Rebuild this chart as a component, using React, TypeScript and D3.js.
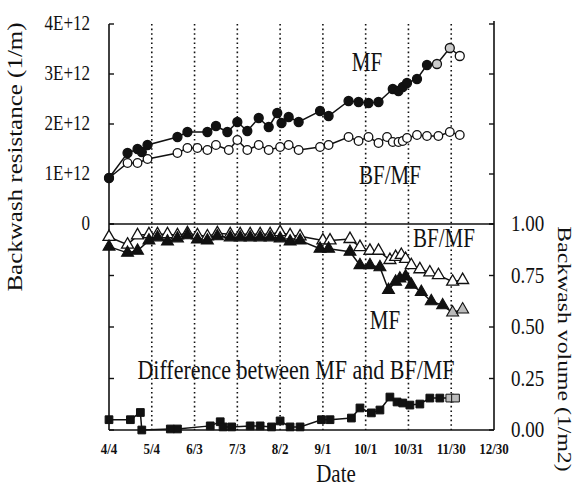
import React from "react";
import * as d3 from "d3";

// ---- axis ticks ----
const xTickDays = [0, 30, 60, 90, 120, 150, 180, 210, 240, 270];
const xTickLabels = ["4/4", "5/4", "6/3", "7/3", "8/2", "9/1", "10/1", "10/31", "11/30", "12/30"];
const gridDays = [30, 60, 90, 120, 150, 180, 210, 240];
const leftTickValues = [0, 1, 2, 3, 4];
const leftTickLabels = ["0", "1E+12", "2E+12", "3E+12", "4E+12"];
const rightTickValues = [0, 0.25, 0.5, 0.75, 1];
const rightTickLabels = ["0.00", "0.25", "0.50", "0.75", "1.00"];

// ---- backwash resistance (E+12 1/m), days since 4/4 ----
const mfResDays = [0, 13, 20, 23, 27, 48, 55, 69, 75, 83, 90, 97, 105, 112, 118, 121, 126, 133, 148, 154, 168, 175, 182, 189, 199, 203, 206, 209, 216, 223, 230, 239, 246];
const mfResValues = [0.92, 1.42, 1.5, 1.44, 1.58, 1.74, 1.84, 1.84, 1.96, 1.84, 2.04, 1.86, 2.12, 1.94, 2.22, 2.02, 2.14, 2.04, 2.26, 2.16, 2.46, 2.44, 2.42, 2.44, 2.7, 2.66, 2.74, 2.82, 2.9, 3.18, 3.2, 3.52, 3.36];
const bfResDays = [0, 13, 20, 27, 48, 55, 62, 69, 75, 84, 90, 97, 105, 112, 120, 126, 133, 148, 154, 168, 175, 182, 189, 195, 199, 203, 206, 209, 216, 223, 231, 239, 246];
const bfResValues = [0.92, 1.22, 1.22, 1.3, 1.42, 1.52, 1.52, 1.48, 1.58, 1.48, 1.68, 1.48, 1.58, 1.48, 1.54, 1.58, 1.48, 1.54, 1.58, 1.74, 1.66, 1.74, 1.62, 1.74, 1.64, 1.64, 1.66, 1.72, 1.78, 1.76, 1.76, 1.84, 1.78];

// ---- backwash volume (1/m2) ----
const mfVolDays = [0, 13, 20, 28, 34, 41, 48, 55, 62, 69, 76, 85, 92, 99, 106, 113, 120, 127, 134, 148, 154, 169, 176, 183, 190, 196, 201, 204, 208, 212, 219, 226, 234, 241, 248];
const mfVolValues = [0.89, 0.86, 0.87, 0.92, 0.935, 0.915, 0.93, 0.945, 0.925, 0.92, 0.94, 0.935, 0.935, 0.935, 0.935, 0.935, 0.93, 0.915, 0.92, 0.88, 0.88, 0.865, 0.8, 0.8, 0.79, 0.68, 0.72, 0.735, 0.745, 0.705, 0.67, 0.625, 0.605, 0.57, 0.585];
const bfVolDays = [0, 13, 20, 28, 34, 41, 48, 55, 62, 69, 76, 85, 92, 99, 106, 113, 120, 127, 134, 150, 155, 169, 176, 183, 189, 197, 201, 205, 208, 212, 218, 225, 231, 241, 248];
const bfVolValues = [0.937, 0.9, 0.945, 0.95, 0.95, 0.95, 0.945, 0.955, 0.945, 0.94, 0.955, 0.95, 0.95, 0.95, 0.95, 0.95, 0.96, 0.945, 0.94, 0.92, 0.92, 0.927, 0.888, 0.87, 0.87, 0.825, 0.84, 0.85, 0.83, 0.8, 0.78, 0.765, 0.752, 0.72, 0.728];

// ---- difference between MF and BF/MF (1/m2) ----
const diffDays = [0, 15, 22, 23, 43, 48, 71, 78, 80, 86, 99, 106, 114, 120, 127, 134, 149, 155, 170, 176, 184, 190, 197, 202, 206, 211, 218, 225, 232, 239, 243];
const diffValues = [0.05, 0.05, 0.085, 0.0, 0.005, 0.005, 0.02, 0.04, 0.015, 0.015, 0.02, 0.02, 0.015, 0.044, 0.015, 0.015, 0.05, 0.05, 0.058, 0.107, 0.083, 0.097, 0.16, 0.136, 0.131, 0.121, 0.126, 0.155, 0.155, 0.155, 0.155];

// number of trailing (provisional) points drawn pale
const mfResPale = 3;
const mfVolPale = 2;
const diffPale = 2;

const W = 580;
const H = 491;
const FONT = "'Liberation Serif', 'Times New Roman', serif";
const SY = 1.25;

type Pt = { d: number; v: number };
const zip = (ds: number[], vs: number[]): Pt[] => ds.map((d, i) => ({ d, v: vs[i] }));

function T({ x, y, size, children, anchor = "middle", weight = "normal", rotate = 0, sy = SY }: any) {
  const tr = rotate
    ? `translate(${x},${y}) rotate(${rotate}) scale(${sy},1)`
    : `translate(${x},${y}) scale(1,${sy})`;
  return (
    <text transform={tr} textAnchor={anchor} fontFamily={FONT} fontSize={size} fontWeight={weight} fill="#111">
      {children}
    </text>
  );
}

export default function App() {
  const x = d3.scaleLinear().domain([0, 270]).range([109, 494]);
  const yRes = d3.scaleLinear().domain([0, 4]).range([224, 24]);
  const yVol = d3.scaleLinear().domain([0, 1]).range([430, 224]);

  const mfRes = zip(mfResDays, mfResValues);
  const bfRes = zip(bfResDays, bfResValues);
  const mfVol = zip(mfVolDays, mfVolValues);
  const bfVol = zip(bfVolDays, bfVolValues);
  const diff = zip(diffDays, diffValues);

  const lineRes = d3.line<Pt>().x((p) => x(p.d)).y((p) => yRes(p.v));
  const lineVol = d3.line<Pt>().x((p) => x(p.d)).y((p) => yVol(p.v));
  const tri = d3.symbol().type(d3.symbolTriangle).size(62)() as string;
  const sq = d3.symbol().type(d3.symbolSquare).size(60)() as string;

  const left = x(0);
  const right = x(270);
  const top = yRes(4);
  const bottom = yVol(0);

  return (
    <svg width={W} height={H} style={{ position: "absolute", left: 0, top: 0, background: "#fff" }}>
      <rect x={0} y={0} width={W} height={H} fill="#fff" />
      {/* dotted verticals */}
      {gridDays.map((d) => (
        <line key={d} x1={x(d)} x2={x(d)} y1={top} y2={bottom} stroke="#111" strokeWidth={1.6} strokeDasharray="1.6,3" />
      ))}
      {/* frame */}
      <line x1={left} x2={left} y1={top} y2={bottom} stroke="#111" strokeWidth={1.6} />
      <line x1={right} x2={right} y1={top - 3} y2={bottom} stroke="#111" strokeWidth={1.6} />
      <line x1={left} x2={right} y1={bottom} y2={bottom} stroke="#111" strokeWidth={1.6} />
      <line x1={left} x2={right} y1={yRes(0)} y2={yRes(0)} stroke="#111" strokeWidth={1.4} />
      {/* ticks */}
      {leftTickValues.map((v) => (
        <g key={"l" + v}>
          <line x1={left} x2={left + 5} y1={yRes(v)} y2={yRes(v)} stroke="#111" strokeWidth={1.4} />
          <line x1={right} x2={right - 5} y1={yRes(v)} y2={yRes(v)} stroke="#111" strokeWidth={1.4} />
        </g>
      ))}
      {rightTickValues.map((v) => (
        <g key={"r" + v}>
          <line x1={left} x2={left + 5} y1={yVol(v)} y2={yVol(v)} stroke="#111" strokeWidth={1.4} />
          <line x1={right} x2={right - 5} y1={yVol(v)} y2={yVol(v)} stroke="#111" strokeWidth={1.4} />
        </g>
      ))}

      {/* resistance lines */}
      <path d={lineRes(bfRes) as string} fill="none" stroke="#111" strokeWidth={1.5} />
      <path d={lineRes(mfRes) as string} fill="none" stroke="#111" strokeWidth={1.5} />
      {bfRes.map((p, i) => (
        <circle key={"bc" + i} cx={x(p.d)} cy={yRes(p.v)} r={4.3} fill="#fff" stroke="#111" strokeWidth={1.3} />
      ))}
      {mfRes.map((p, i) => (
        <circle key={"mc" + i} cx={x(p.d)} cy={yRes(p.v)} r={4.5}
          fill={i >= mfRes.length - mfResPale ? (i === mfRes.length - 1 ? "#fff" : "#ccc") : "#111"}
          stroke="#111" strokeWidth={1.3} />
      ))}

      {/* volume lines */}
      <path d={lineVol(bfVol) as string} fill="none" stroke="#111" strokeWidth={1.5} />
      <path d={lineVol(mfVol) as string} fill="none" stroke="#111" strokeWidth={1.5} />
      <path d={lineVol(diff) as string} fill="none" stroke="#111" strokeWidth={1.5} />
      {bfVol.map((p, i) => (
        <path key={"bt" + i} d={tri} transform={`translate(${x(p.d)},${yVol(p.v)})`} fill="#fff" stroke="#111" strokeWidth={1.3} />
      ))}
      {mfVol.map((p, i) => (
        <path key={"mt" + i} d={tri} transform={`translate(${x(p.d)},${yVol(p.v)})`}
          fill={i >= mfVol.length - mfVolPale ? "#bbb" : "#111"} stroke="#111" strokeWidth={1.1} />
      ))}
      {diff.map((p, i) => (
        <path key={"sq" + i} d={sq} transform={`translate(${x(p.d)},${yVol(p.v)})`}
          fill={i >= diff.length - diffPale ? "#bbb" : "#111"} stroke="#111" strokeWidth={1} />
      ))}

      {/* tick labels */}
      {leftTickValues.map((v, i) => (
        <T key={"lt" + v} x={90} y={yRes(v) + 6} size={17} anchor="end">{leftTickLabels[i]}</T>
      ))}
      {rightTickValues.map((v, i) => (
        <T key={"rt" + v} x={511} y={yVol(v) + 7} size={19} anchor="start">{rightTickLabels[i]}</T>
      ))}
      {xTickDays.map((d, i) => (
        <T key={"xt" + d} x={x(d)} y={454} size={13} weight="bold" sy={1.15}>{xTickLabels[i]}</T>
      ))}

      {/* annotations */}
      <T x={367} y={71} size={21}>MF</T>
      <T x={390} y={184} size={21}>BF/MF</T>
      <T x={444} y={247} size={21}>BF/MF</T>
      <T x={385} y={329} size={21}>MF</T>
      <T x={296} y={379} size={22}>Difference between MF and BF/MF</T>

      {/* axis titles */}
      <T x={336} y={482} size={21} sy={1.15}>Date</T>
      <T x={22} y={157} size={20} rotate={-90}>Backwash resistance (1/m)</T>
      <T x={558} y={349} size={19} rotate={90}>Backwash volume (1/m2)</T>
    </svg>
  );
}
